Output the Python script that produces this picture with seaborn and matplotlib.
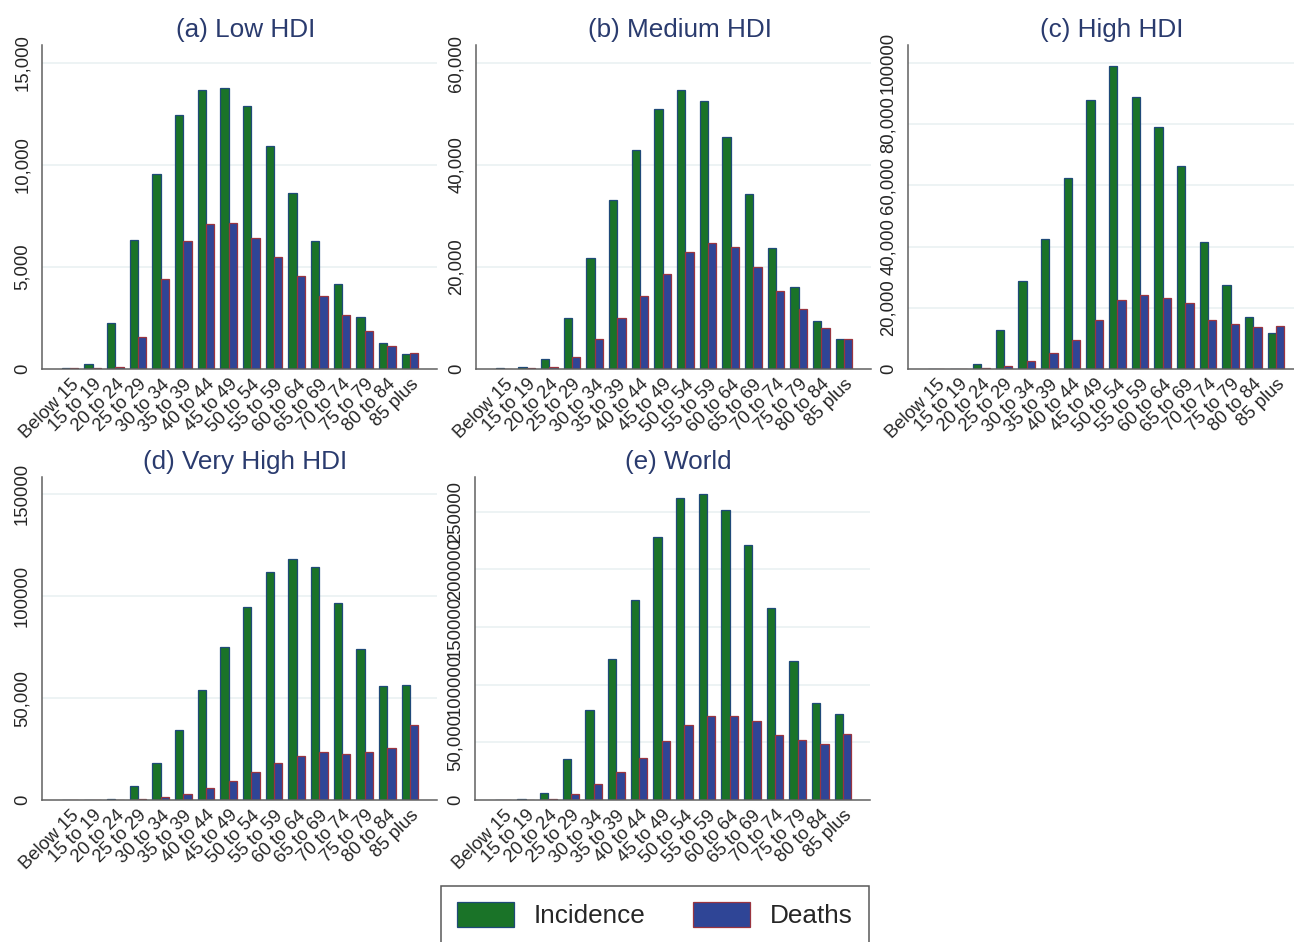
import pandas as pd
import seaborn as sns
import matplotlib.pyplot as plt
from matplotlib.patches import Patch
from matplotlib.ticker import FixedLocator

ages = ['Below 15', '15 to 19', '20 to 24', '25 to 29', '30 to 34', '35 to 39',
        '40 to 44', '45 to 49', '50 to 54', '55 to 59', '60 to 64', '65 to 69',
        '70 to 74', '75 to 79', '80 to 84', '85 plus']

low_inc = [60, 230, 2270, 6320, 9580, 12440, 13690, 13760, 12880, 10920, 8640, 6280, 4180, 2530, 1270, 730]
low_dth = [30, 30, 100, 1580, 4390, 6250, 7100, 7180, 6400, 5480, 4540, 3560, 2640, 1860, 1130, 780]

med_inc = [130, 330, 1890, 9920, 21670, 33220, 42890, 50980, 54640, 52550, 45430, 34400, 23820, 16120, 9400, 5810]
med_dth = [60, 130, 390, 2420, 5870, 9920, 14300, 18600, 22850, 24800, 23960, 19910, 15340, 11810, 7960, 5810]

high_inc = [110, 110, 1520, 12730, 28840, 42550, 62570, 87920, 99020, 88900, 79110, 66270, 41570, 27310, 17080, 11640]
high_dth = [50, 50, 200, 980, 2720, 5330, 9470, 15890, 22520, 24050, 23290, 21550, 15890, 14690, 13820, 14040]

vhigh_inc = [160, 160, 650, 6860, 18300, 34310, 53920, 74840, 94930, 112090, 118140, 114220, 96730, 74020, 56050, 56210]
vhigh_dth = [100, 100, 160, 490, 1310, 3100, 5720, 9310, 13560, 17970, 21410, 23530, 22710, 23530, 25490, 36600]

world_inc = [300, 580, 6060, 35800, 78230, 122690, 173210, 227770, 261550, 265010, 251730, 221420, 166280, 120380, 84010, 74480]
world_dth = [100, 150, 580, 4910, 14150, 24540, 36370, 50810, 65240, 72460, 73040, 68130, 56290, 51670, 48500, 57160]

titles = ['(a) Low HDI', '(b) Medium HDI', '(c) High HDI', '(d) Very High HDI', '(e) World']
yticks = [[0, 5000, 10000, 15000],
          [0, 20000, 40000, 60000],
          [0, 20000, 40000, 60000, 80000, 100000],
          [0, 50000, 100000, 150000],
          [0, 50000, 100000, 150000, 200000, 250000]]
yticklabels = [['0', '5,000', '10,000', '15,000'],
               ['0', '20,000', '40,000', '60,000'],
               ['0', '20,000', '40,000', '60,000', '80,000', '100000'],
               ['0', '50,000', '100000', '150000'],
               ['0', '50,000', '100000', '150000', '200000', '250000']]
ytops = [15880, 63530, 105880, 158490, 280090]

series = [(low_inc, low_dth), (med_inc, med_dth), (high_inc, high_dth),
          (vhigh_inc, vhigh_dth), (world_inc, world_dth)]

green = '#1a7328'
blue = '#2f4596'
green_edge = '#1f4a78'
blue_edge = '#9a3540'
title_color = '#2a3b6e'
grid_color = '#e8f0f1'
axis_color = '#606060'

sns.set_theme(style='white')
plt.rcParams['font.family'] = ['Liberation Sans', 'DejaVu Sans']

W, H = 1294, 942
fig = plt.figure(figsize=(W / 100, H / 100), dpi=100)

# panel boxes in pixels: left, top, right, bottom
boxes = [(42, 45, 437, 369), (476, 45, 871, 369), (908, 45, 1303, 369),
         (42, 477, 437, 800), (475, 477, 870, 800)]

for i, (inc, dth) in enumerate(series):
    l, t, r, b = boxes[i]
    ax = fig.add_axes([l / W, 1 - b / H, (r - l) / W, (b - t) / H])
    df = pd.DataFrame({
        'age': ages * 2,
        'measure': ['Incidence'] * len(ages) + ['Deaths'] * len(ages),
        'value': inc + dth,
    })
    sns.barplot(data=df, x='age', y='value', hue='measure', order=ages,
                hue_order=['Incidence', 'Deaths'], palette=[green, blue],
                width=0.74, gap=0, saturation=1, legend=False, ax=ax,
                linewidth=0.9, zorder=3)
    for cont, ec in zip(ax.containers, [green_edge, blue_edge]):
        for bar in cont:
            bar.set_edgecolor(ec)
            bar.set_linewidth(0.9)

    ax.set_xlim(-1.24, 16.19)
    ax.set_ylim(0, ytops[i])
    ax.yaxis.set_major_locator(FixedLocator(yticks[i]))
    ax.set_yticklabels(yticklabels[i], rotation=90, va='center', fontsize=13.3)
    ax.set_xticks(range(len(ages)))
    ax.set_xticklabels(ages, rotation=45, ha='right', rotation_mode='anchor', fontsize=13.3)
    ax.tick_params(axis='x', length=0, pad=5)
    ax.tick_params(axis='y', length=7, width=1, color=axis_color, pad=1)
    for y in yticks[i][1:]:
        ax.axhline(y, color=grid_color, lw=1.1, zorder=0)
    for s in ['top', 'right']:
        ax.spines[s].set_visible(False)
    for s in ['left', 'bottom']:
        ax.spines[s].set_color(axis_color)
        ax.spines[s].set_linewidth(1.1)
        ax.spines[s].set_zorder(4)
    ax.set_xlabel('')
    ax.set_ylabel('')
    ax.set_title(titles[i], fontsize=18.8, color=title_color, pad=6,
                 x=0.5 + 6 / (r - l))

handles = [Patch(facecolor=green, edgecolor=green_edge, linewidth=0.9),
           Patch(facecolor=blue, edgecolor=blue_edge, linewidth=0.9)]
leg = fig.legend(handles, ['Incidence', 'Deaths'], loc='upper left',
                 bbox_to_anchor=(441 / W, 1 - 886 / H), ncol=2, fontsize=18.8,
                 handlelength=2.2, handleheight=1.1, handletextpad=0.76,
                 columnspacing=1.8, borderpad=0.6, borderaxespad=0,
                 frameon=True, fancybox=False, edgecolor='#303030')
leg.get_frame().set_linewidth(1.1)

fig.savefig('out.png', dpi=100)
